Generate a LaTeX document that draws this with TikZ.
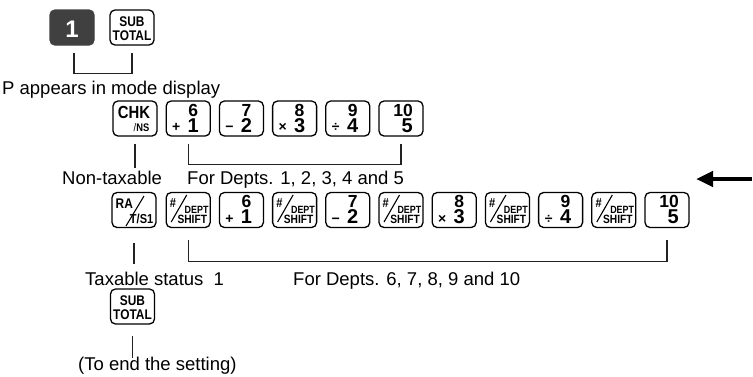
\documentclass[tikz,border=0pt]{standalone}
\usepackage{fontspec}
\setmainfont{Liberation Sans}
\newfontfamily\keyfont{Liberation Sans}[FakeStretch=0.85]
\usetikzlibrary{arrows.meta}
\definecolor{keydark}{HTML}{404040}
\definecolor{linegray}{HTML}{222222}
\tikzset{
  key/.style={draw=black, line width=1.3pt, rounded corners=5pt, minimum width=44pt, minimum height=35pt, inner sep=0pt, fill=white},
  darkkey/.style={key, draw=keydark, fill=keydark},
  txt/.style={font=\fontsize{18.5}{22}\selectfont, inner sep=0pt, anchor=base west},
  dtop/.style={font=\bfseries\fontsize{17.5}{17.5}\selectfont, inner sep=0pt, anchor=base},
  dbot/.style={font=\bfseries\fontsize{20}{20}\selectfont, inner sep=0pt, anchor=base},
  opsign/.style={font=\bfseries\fontsize{14}{14}\selectfont, inner sep=0pt, anchor=base},
  keytxt/.style={font=\keyfont\bfseries\fontsize{14}{14}\selectfont, inner sep=0pt, anchor=base},
  slashline/.style={line width=1.1pt, black},
  bracket/.style={draw=linegray, line width=1.1pt},
  bigarrow/.style={line width=4.5pt, -{Triangle[length=17pt,width=15pt]}}
}
\newcommand\numkey[6]{%
  \node[key] (#1) at (#2,#3) {};
  \node[dtop] (#1t) at ([shift={(5,-2.5)}]#1.center) {#4};
  \node[dbot] (#1b) at ([shift={(5,13.8)}]#1.center) {#5};
  \node[opsign] (#1o) at ([shift={(-12,13.3)}]#1.center) {#6};
}
\newcommand\deptkey[3]{%
  \node[key] (#1) at (#2,#3) {};
  \node[font=\keyfont\bfseries\fontsize{13}{13}\selectfont, inner sep=0pt, anchor=base west] (#1h) at ([shift={(-18.5,-3)}]#1.center) {\#};
  \draw[slashline] ([shift={(-17,12)}]#1.center) -- ([shift={(-1.5,-15)}]#1.center);
  \node[font=\keyfont\bfseries\fontsize{10.5}{10.5}\selectfont, inner sep=0pt, anchor=base east] (#1d) at ([shift={(20.5,3)}]#1.center) {DEPT};
  \node[font=\keyfont\bfseries\fontsize{12}{12}\selectfont, inner sep=0pt, anchor=base east] (#1s) at ([shift={(19,13)}]#1.center) {SHIFT};
}
\newcommand\subkey[3]{%
  \node[key] (#1) at (#2,#3) {};
  \node[keytxt] (#1a) at ([shift={(0,-1.5)}]#1.center) {SUB};
  \node[keytxt] (#1b) at ([shift={(0,12.5)}]#1.center) {TOTAL};
}
\begin{document}
\begin{tikzpicture}[x=1pt,y=-1pt]
\useasboundingbox (0,0) rectangle (753,376);
% top row
\node[darkkey] (kone) at (72,27.5) {};
\node[font=\bfseries\fontsize{24}{24}\selectfont, text=white, inner sep=0pt, anchor=base] (konet) at ([shift={(0,9.5)}]kone.center) {1};
\subkey{ksub}{132}{27.5}
\draw[bracket] ([shift={(2,7)}]kone.south) -- ++(0,21) -| ([shift={(0,7)}]ksub.south);
\node[txt] (tp) at (2,94) {P appears in mode display};
% row 1
\node[key] (kchk) at (135,118.5) {};
\node[font=\keyfont\bfseries\fontsize{17.5}{17.5}\selectfont, inner sep=0pt, anchor=base] (kchkt) at ([shift={(-1,0)}]kchk.center) {CHK};
\node[font=\keyfont\bfseries\fontsize{11}{11}\selectfont, inner sep=0pt, anchor=base east] (kchkb) at ([shift={(14.5,12.5)}]kchk.center) {{\mdseries/}NS};
\numkey{ra}{188.2}{118.5}{6}{1}{+}
\numkey{rb}{241.4}{118.5}{7}{2}{−}
\numkey{rc}{294.6}{118.5}{8}{3}{×}
\numkey{rd}{347.8}{118.5}{9}{4}{÷}
\node[key] (re) at (401,118.5) {};
\node[dtop, anchor=base east] (ret) at ([shift={(12,-2.5)}]re.center) {10};
\node[dbot, anchor=base east] (reb) at ([shift={(12,13.8)}]re.center) {5};
\draw[bracket] ([shift={(0,7)}]kchk.south) -- ++(0,24);
\draw[bracket] ([shift={(0,7)}]ra.south) -- ++(0,21) -| ([shift={(0,7)}]re.south);
\node[txt] (tnon) at (62,184) {Non-taxable};
\node[txt] (tfor1) at (187,184) {For Depts. 1, 2, 3, 4 and 5};
% arrow
\coordinate (arrS) at (752,179);
\coordinate (arrE) at (696,179);
\draw[bigarrow] (arrS) -- (arrE);
% row 2
\node[key] (kra) at (134,210) {};
\node[font=\keyfont\bfseries\fontsize{14}{14}\selectfont, inner sep=0pt, anchor=base west] (krat) at ([shift={(-18.5,-2)}]kra.center) {RA};
\draw[slashline] ([shift={(-8,16)}]kra.center) -- ([shift={(10,-14)}]kra.center);
\node[font=\keyfont\bfseries\fontsize{13}{13}\selectfont, inner sep=0pt, anchor=base east] (krab) at ([shift={(19.5,13)}]kra.center) {T/S1};
\deptkey{da}{188.2}{210}
\numkey{sa}{241.4}{210}{6}{1}{+}
\deptkey{db}{294.6}{210}
\numkey{sb}{347.8}{210}{7}{2}{−}
\deptkey{dc}{401}{210}
\numkey{sc}{454.2}{210}{8}{3}{×}
\deptkey{dd}{507.4}{210}
\numkey{sd}{560.6}{210}{9}{4}{÷}
\deptkey{de}{613.8}{210}
\node[key] (se) at (667,210) {};
\node[dtop, anchor=base east] (set) at ([shift={(12,-2.5)}]se.center) {10};
\node[dbot, anchor=base east] (seb) at ([shift={(12,13.8)}]se.center) {5};
\draw[bracket] ([shift={(0,15)}]kra.south) -- ++(0,21);
\draw[bracket] ([shift={(0,12)}]da.south) -- ++(0,21) -| ([shift={(0,12)}]se.south);
\node[txt] (ttax) at (85,285) {Taxable status\ \ 1};
\node[txt] (tfor2) at (293,285) {For Depts. 6, 7, 8, 9 and 10};
% bottom
\subkey{kend}{132.5}{306.5}
\draw[bracket] ([shift={(0,11)}]kend.south) -- ++(0,22);
\node[txt] (tend) at (78,370) {(To end the setting)};
\end{tikzpicture}
\end{document}
